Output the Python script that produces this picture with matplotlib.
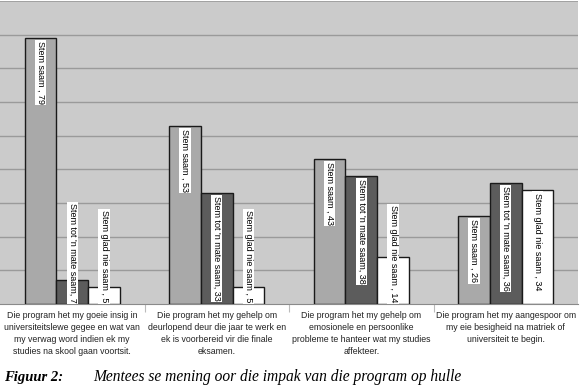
import matplotlib
matplotlib.use("Agg")
import matplotlib.pyplot as plt
import numpy as np

# data
categories = [
    "Die program het my goeie insig in\nuniversiteitslewe gegee en wat van\nmy verwag word indien ek my\nstudies na skool gaan voortsit.",
    "Die program het my gehelp om\ndeurlopend deur die jaar te werk en\nek is voorbereid vir die finale\neksamen.",
    "Die program het my gehelp om\nemosionele en persoonlike\nprobleme te hanteer wat my studies\naffekteer.",
    "Die program het my aangespoor om\nmy eie besigheid na matriek of\nuniversiteit te begin.",
]
series_names = ["Stem saam", "Stem tot 'n mate saam", "Stem glad nie saam"]
label_fmt = ["{} , {}", "{}, {}", "{} , {}"]
stem_saam = [79, 53, 43, 26]
stem_tot_mate = [7, 33, 38, 36]
stem_glad_nie = [5, 5, 14, 34]
series_values = [stem_saam, stem_tot_mate, stem_glad_nie]

colors = ["#a9a9a9", "#5c5c5c", "#ffffff"]
W, H = 580, 387

fig = plt.figure(figsize=(W / 100, H / 100), dpi=100)
fig.patch.set_facecolor("white")
ax = fig.add_axes([0.0, 1 - 304 / H, 578 / W, 303 / H])
ax.set_facecolor("#cbcbcb")

x = np.arange(len(categories))
bw = 0.22
bars = []
for i, vals in enumerate(series_values):
    b = ax.bar(x + (i - 1) * bw, vals, bw, color=colors[i],
               edgecolor="#1a1a1a", linewidth=1.0, zorder=3)
    bars.append(b)

ax.set_xlim(-0.5, len(categories) - 0.5)
ax.set_ylim(0, 90)
ax.set_yticks(np.arange(10, 90, 10))
ax.yaxis.grid(True, color="#9a9a9a", linewidth=1.0, zorder=0)
ax.tick_params(axis="y", length=0, labelleft=False)
ax.set_xticks(np.arange(0.5, len(categories) - 0.5, 1))
ax.tick_params(axis="x", length=6, color="#bbbbbb", labelbottom=False)
for s in ["left", "right", "top"]:
    ax.spines[s].set_visible(False)
ax.spines["bottom"].set_color("#8a8a8a")
ax.axhline(90, color="#9a9a9a", lw=1.2, zorder=1)

for gi, cat in enumerate(categories):
    ax.text(gi, -2.0, cat, ha="center", va="top", fontsize=6.3,
            family="Liberation Sans", linespacing=1.45, color="#222222")

# value labels, rotated, white boxes
fig.canvas.draw()
rend = fig.canvas.get_renderer()
for i, vals in enumerate(series_values):
    for gi, v in enumerate(vals):
        xc = gi + (i - 1) * bw
        t = ax.text(xc, v - 0.9, label_fmt[i].format(series_names[i], v),
                    rotation=-90, ha="center", va="top", fontsize=6.5,
                    family="Liberation Sans", zorder=5,
                    bbox=dict(boxstyle="square,pad=0.12", fc="white", ec="none"))
        bb = t.get_window_extent(rend)
        y0 = ax.transData.transform((0, 0))[1]
        if bb.y0 < y0 + 2:
            t.set_y(0.4)
            t.set_va("bottom")

fig.text(4 / W, 1 - 381 / H, "Figuur 2:", fontsize=10.5, family="Liberation Serif",
         style="italic", weight="bold", va="baseline")
fig.text(93 / W, 1 - 381 / H, "Mentees se mening oor die impak van die program op hulle",
         fontsize=11.2, family="Liberation Serif", style="italic", va="baseline")

fig.savefig("out.png", dpi=100)
